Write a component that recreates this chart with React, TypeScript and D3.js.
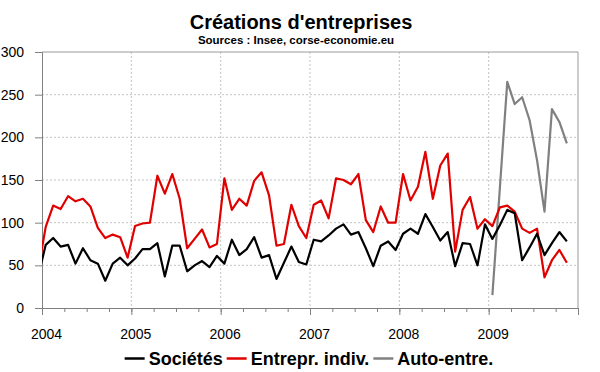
import * as d3 from "d3";
import { useEffect, useRef } from "react";

// month index 0 = Jan 2004; first value is Dec 2003 (index -1), clipped at the axis
const firstMonth = -1;
const years = ["2004", "2005", "2006", "2007", "2008", "2009"];
const yTicks = [0, 50, 100, 150, 200, 250, 300];

const societes = [
  38,
  74, 82, 72, 74, 52, 70, 56, 52, 32, 52, 59, 50,
  58, 69, 69, 76, 37, 73, 73, 43, 50, 55, 48, 61,
  52, 80, 62, 69, 83, 59, 62, 34, 53, 72, 54, 51,
  80, 78, 85, 93, 98, 86, 89, 70, 49, 73, 78, 68,
  87, 93, 87, 110, 95, 79, 89, 49, 76, 75, 50, 98,
  81, 97, 115, 111, 56, 71, 87, 62, 76, 89, 78,
];

const entreprIndiv = [
  45,
  95, 120, 116, 131, 125, 128, 119, 94, 82, 86, 83, 59,
  96, 99, 100, 155, 134, 157, 128, 70, 81, 92, 71, 75,
  152, 115, 128, 120, 149, 159, 132, 73, 75, 121, 96, 82,
  121, 126, 105, 152, 150, 145, 157, 103, 89, 119, 100, 100,
  157, 126, 142, 183, 128, 167, 181, 66, 115, 130, 93, 104,
  96, 118, 120, 113, 93, 88, 93, 36, 56, 68, 53,
];

// Jan 2009 .. Nov 2009
const autoEntreStart = 60;
const autoEntre = [15, 140, 265, 239, 247, 220, 173, 113, 233, 218, 193];

const seriesNames = ["Sociétés", "Entrepr. indiv.", "Auto-entre."];
const seriesColors = ["#000000", "#e00000", "#808080"];

const width = 600;
const height = 372;
const left = 42;
const right = 578;
const top = 52;
const bottom = 308;
const font = "'Liberation Sans', Arial, sans-serif";

type Pt = { k: number; v: number };

export default function App() {
  const svgRef = useRef<SVGSVGElement>(null);

  useEffect(() => {
    const svg = d3.select(svgRef.current);
    svg.selectAll("*").remove();

    const x = d3.scaleLinear().domain([0, 72]).range([left, right]);
    const y = d3.scaleLinear().domain([0, 300]).range([bottom, top]);

    svg
      .append("rect")
      .attr("width", width)
      .attr("height", height)
      .attr("fill", "#fff");

    // title
    svg
      .append("text")
      .attr("x", 301)
      .attr("y", 29)
      .attr("text-anchor", "middle")
      .style("font", `bold 20px ${font}`)
      .text("Créations d'entreprises");
    svg
      .append("text")
      .attr("x", 296)
      .attr("y", 44)
      .attr("text-anchor", "middle")
      .style("font", `bold 11.5px ${font}`)
      .text("Sources : Insee, corse-economie.eu");

    // grid
    svg
      .append("g")
      .selectAll("line")
      .data(yTicks.slice(1, -1))
      .join("line")
      .attr("x1", left)
      .attr("x2", right)
      .attr("y1", (d) => y(d))
      .attr("y2", (d) => y(d))
      .attr("stroke", "#c4c4c4")
      .attr("stroke-dasharray", "2,2");
    svg
      .append("g")
      .selectAll("line")
      .data(years.slice(1).map((_, i) => (i + 1) * 12))
      .join("line")
      .attr("x1", (d) => x(d))
      .attr("x2", (d) => x(d))
      .attr("y1", top)
      .attr("y2", bottom)
      .attr("stroke", "#c4c4c4")
      .attr("stroke-dasharray", "2,2");

    // border
    svg
      .append("path")
      .attr("d", `M${left},${top}H${right}V${bottom}`)
      .attr("fill", "none")
      .attr("stroke", "#999");

    // Y axis
    const yAxis = svg
      .append("g")
      .attr("transform", `translate(${left},0)`)
      .call(d3.axisLeft(y).tickValues(yTicks).tickSize(7).tickPadding(11));
    yAxis.selectAll("line, path").attr("stroke", "#808080");
    yAxis.selectAll("text").style("font", `14px ${font}`).attr("fill", "#000");

    // X axis, quarterly ticks, labels on years
    const xMinor = svg
      .append("g")
      .attr("transform", `translate(0,${bottom})`)
      .call(
        d3
          .axisBottom(x)
          .tickValues(d3.range(0, 73, 3))
          .tickSize(4)
          .tickFormat(() => "")
      );
    xMinor.selectAll("line, path").attr("stroke", "#808080");
    const xMajor = svg
      .append("g")
      .attr("transform", `translate(0,${bottom})`)
      .call(
        d3
          .axisBottom(x)
          .tickValues(d3.range(0, 73, 12))
          .tickSize(7)
          .tickPadding(14)
          .tickFormat((d) => years[(d as number) / 12] ?? "")
      );
    xMajor.select("path").remove();
    xMajor.selectAll("line").attr("stroke", "#808080");
    xMajor
      .selectAll("text")
      .style("font", `14px ${font}`)
      .attr("fill", "#000")
      .attr("dx", 4);

    // lines
    svg
      .append("clipPath")
      .attr("id", "plot-clip")
      .append("rect")
      .attr("x", left)
      .attr("y", top)
      .attr("width", right - left)
      .attr("height", bottom - top);

    const line = d3
      .line<Pt>()
      .x((d) => x(d.k + 0.5))
      .y((d) => y(d.v));

    const series: Pt[][] = [
      societes.map((v, i) => ({ k: firstMonth + i, v })),
      entreprIndiv.map((v, i) => ({ k: firstMonth + i, v })),
      autoEntre.map((v, i) => ({ k: autoEntreStart + i, v })),
    ];

    svg
      .append("g")
      .attr("clip-path", "url(#plot-clip)")
      .selectAll("path")
      .data([series[2], series[1], series[0]])
      .join("path")
      .attr("fill", "none")
      .attr("stroke", (_, i) => seriesColors[2 - i])
      .attr("stroke-width", 2.2)
      .attr("stroke-linejoin", "round")
      .attr("d", (d) => line(d));

    // legend
    const legend = svg.append("g");
    let cx = 0;
    seriesNames.forEach((name, i) => {
      const g = legend.append("g").attr("transform", `translate(${cx},0)`);
      g.append("line")
        .attr("x1", 0)
        .attr("x2", 20)
        .attr("y1", -6.5)
        .attr("y2", -6.5)
        .attr("stroke", seriesColors[i])
        .attr("stroke-width", 2.5);
      const t = g
        .append("text")
        .attr("x", 24)
        .style("font", `bold 18px ${font}`)
        .text(name);
      const w = (t.node() as SVGTextElement).getComputedTextLength();
      cx += 24 + w + 4;
    });
    legend.attr("transform", `translate(${309 - (cx - 4) / 2},365)`);
  }, []);

  return (
    <svg
      ref={svgRef}
      width={width}
      height={height}
      style={{ position: "absolute", left: 0, top: 0 }}
    />
  );
}
